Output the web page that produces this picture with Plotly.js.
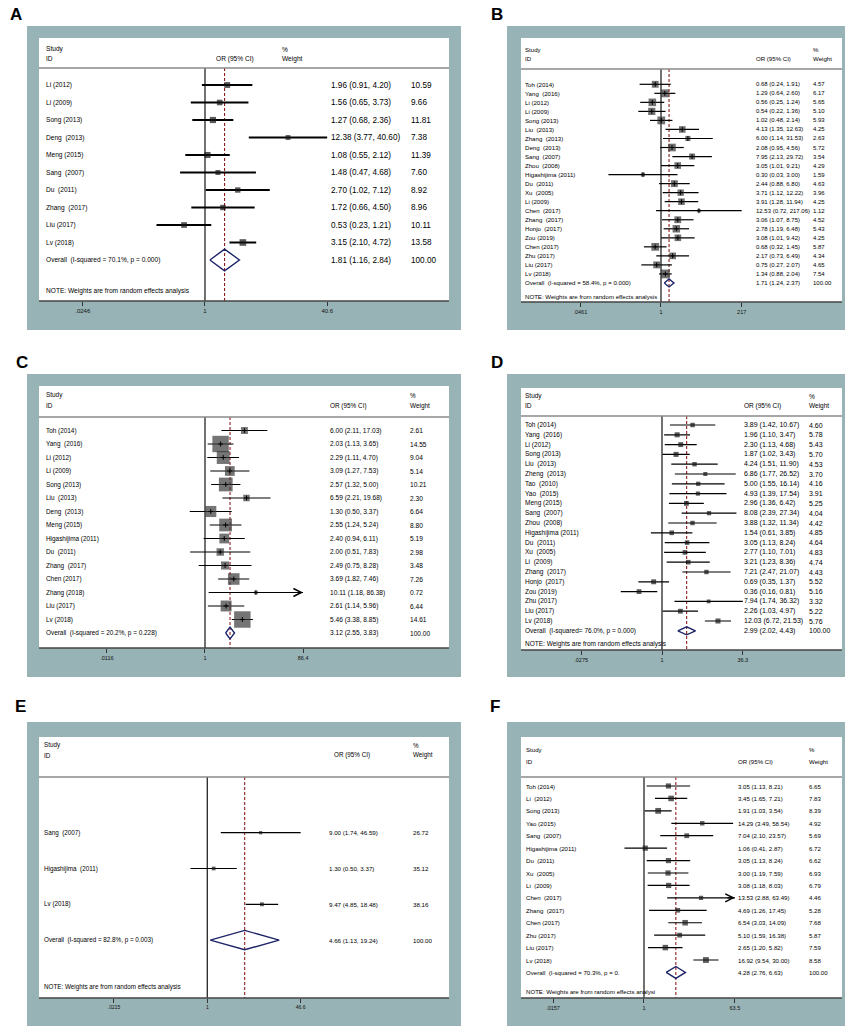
<!DOCTYPE html>
<html><head><meta charset="utf-8">
<script src="https://cdn.plot.ly/plotly-3.0.1.min.js"></script>
<style>html,body{margin:0;padding:0;background:#fff}#chart{width:845px;height:1026px}</style>
</head><body><div id="chart"></div>
<script>
// ================= DATA =================
// Panel A
const A_study = ['Li (2012)','Li (2009)','Song (2013)','Deng  (2013)','Meng (2015)','Sang  (2007)','Du  (2011)','Zhang  (2017)','Liu (2017)','Lv (2018)'];
const A_or = [1.96,1.56,1.27,12.38,1.08,1.48,2.70,1.72,0.53,3.15];
const A_lo = [0.91,0.65,0.68,3.77,0.55,0.47,1.02,0.66,0.23,2.10];
const A_hi = [4.20,3.73,2.36,40.60,2.12,4.68,7.12,4.50,1.21,4.72];
const A_wt = [10.59,9.66,11.81,7.38,11.39,7.60,8.92,8.96,10.11,13.58];
const A_overall = [1.81,1.16,2.84];
const A_overallLabel = 'Overall  (I-squared = 70.1%, p = 0.000)';
const A_tickVals = [0.0246,1,40.6];
const A_tickText = ['.0246','1','40.6'];
const A_note = 'NOTE: Weights are from random effects analysis';

// Panel B
const B_study = ['Toh (2014)','Yang  (2016)','Li (2012)','Li (2009)','Song (2013)','Liu  (2013)','Zhang  (2013)','Deng  (2013)','Sang  (2007)','Zhou  (2008)','Higashijima (2011)','Du  (2011)','Xu  (2005)','Li (2009)','Chen  (2017)','Zhang  (2017)','Honjo  (2017)','Zou (2019)','Chen (2017)','Zhu (2017)','Liu (2017)','Lv (2018)'];
const B_or = [0.68,1.29,0.56,0.54,1.02,4.13,6.00,2.08,7.95,3.05,0.30,2.44,3.71,3.91,12.53,3.06,2.78,3.08,0.68,2.17,0.75,1.34];
const B_lo = [0.24,0.64,0.25,0.22,0.48,1.35,1.14,0.95,2.13,1.01,0.03,0.88,1.12,1.28,0.72,1.07,1.19,1.01,0.32,0.73,0.27,0.88];
const B_hi = [1.91,2.60,1.24,1.36,2.14,12.63,31.53,4.56,29.72,9.21,3.00,6.80,12.22,11.94,217.06,8.75,6.48,9.42,1.45,6.49,2.07,2.04];
const B_wt = [4.57,6.17,5.65,5.10,5.93,4.25,2.63,5.72,3.54,4.29,1.59,4.63,3.96,4.25,1.12,4.52,5.43,4.25,5.87,4.34,4.65,7.54];
const B_overall = [1.71,1.24,2.37];
const B_overallLabel = 'Overall  (I-squared = 58.4%, p = 0.000)';
const B_tickVals = [0.00461,1,217];
const B_tickText = ['.0461','1','217'];
const B_note = 'NOTE: Weights are from random effects analysis';

// Panel C
const C_study = ['Toh (2014)','Yang  (2016)','Li (2012)','Li (2009)','Song (2013)','Liu  (2013)','Deng  (2013)','Meng (2015)','Higashijima (2011)','Du  (2011)','Zhang  (2017)','Chen (2017)','Zhang (2018)','Liu (2017)','Lv (2018)'];
const C_or = [6.00,2.03,2.29,3.09,2.57,6.59,1.30,2.55,2.40,2.00,2.49,3.69,10.11,2.61,5.46];
const C_lo = [2.11,1.13,1.11,1.27,1.32,2.21,0.50,1.24,0.94,0.51,0.75,1.82,1.18,1.14,3.38];
const C_hi = [17.03,3.65,4.70,7.53,5.00,19.68,3.37,5.24,6.11,7.83,8.28,7.46,86.38,5.96,8.85];
const C_wt = [2.61,14.55,9.04,5.14,10.21,2.30,6.64,8.80,5.19,2.98,3.48,7.26,0.72,6.44,14.61];
const C_overall = [3.12,2.55,3.83];
const C_overallLabel = 'Overall  (I-squared = 20.2%, p = 0.228)';
const C_tickVals = [0.0116,1,86.4];
const C_tickText = ['.0116','1','86.4'];
const C_note = '';

// Panel D
const D_study = ['Toh (2014)','Yang  (2016)','Li (2012)','Song (2013)','Liu  (2013)','Zheng  (2013)','Tao  (2010)','Yao  (2015)','Meng (2015)','Sang  (2007)','Zhou  (2008)','Higashijima (2011)','Du  (2011)','Xu  (2005)','Li  (2009)','Zhang  (2017)','Honjo  (2017)','Zou (2019)','Zhu (2017)','Liu (2017)','Lv (2018)'];
const D_or = [3.89,1.96,2.30,1.87,4.24,6.86,5.00,4.93,2.96,8.08,3.88,1.54,3.05,2.77,3.21,7.21,0.69,0.36,7.94,2.26,12.03];
const D_lo = [1.42,1.10,1.13,1.02,1.51,1.77,1.55,1.39,1.36,2.39,1.32,0.61,1.13,1.10,1.23,2.47,0.35,0.16,1.74,1.03,6.72];
const D_hi = [10.67,3.47,4.68,3.43,11.90,26.52,16.14,17.54,6.42,27.34,11.34,3.85,8.24,7.01,8.36,21.07,1.37,0.81,36.32,4.97,21.53];
const D_wt = [4.60,5.78,5.43,5.70,4.53,3.70,4.16,3.91,5.25,4.04,4.42,4.85,4.64,4.83,4.74,4.43,5.52,5.16,3.32,5.22,5.76];
const D_overall = [2.99,2.02,4.43];
const D_overallLabel = 'Overall  (I-squared= 76.0%, p = 0.000)';
const D_tickVals = [0.0275,1,36.3];
const D_tickText = ['.0275','1','36.3'];
const D_note = 'NOTE: Weights are from random effects analysis';

// Panel E
const E_study = ['Sang  (2007)','Higashijima  (2011)','Lv (2018)'];
const E_or = [9.00,1.30,9.47];
const E_lo = [1.74,0.50,4.85];
const E_hi = [46.59,3.37,18.48];
const E_wt = [26.72,35.12,38.16];
const E_overall = [4.66,1.13,19.24];
const E_overallLabel = 'Overall  (I-squared = 82.8%, p = 0.003)';
const E_tickVals = [0.0215,1,46.6];
const E_tickText = ['.0215','1','46.6'];
const E_note = 'NOTE: Weights are from random effects analysis';

// Panel F
const F_study = ['Toh (2014)','Li  (2012)','Song (2013)','Yao (2015)','Sang  (2007)','Higashijima (2011)','Du  (2011)','Xu  (2005)','Li  (2009)','Chen  (2017)','Zhang  (2017)','Chen (2017)','Zhu (2017)','Liu (2017)','Lv (2018)'];
const F_or = [3.05,3.45,1.91,14.29,7.04,1.06,3.05,3.00,3.08,13.53,4.69,6.54,5.10,2.65,16.92];
const F_lo = [1.13,1.65,1.03,3.49,2.10,0.41,1.13,1.19,1.18,2.88,1.26,3.03,1.59,1.20,9.54];
const F_hi = [8.21,7.21,3.54,58.54,23.57,2.87,8.24,7.59,8.03,63.49,17.45,14.09,16.38,5.82,30.00];
const F_wt = [6.65,7.83,8.39,4.92,5.69,6.72,6.62,6.93,6.79,4.46,5.28,7.68,5.87,7.59,8.58];
const F_overall = [4.28,2.76,6.63];
const F_overallLabel = 'Overall  (I-squared = 70.3%, p = 0.';
const F_tickVals = [0.0157,1,63.5];
const F_tickText = ['.0157','1','63.5'];
const F_note = 'NOTE: Weights are from random effects analysi';

// ================= LAYOUT / STYLE =================
const W = 845, H = 1026;
const FONT = 'Arial, "Liberation Sans", Helvetica, sans-serif';
const TEAL = '#98b3b5';

const panels = [
 {name:'A', study:A_study, or:A_or, lo:A_lo, hi:A_hi, wt:A_wt, ov:A_overall, ovLab:A_overallLabel, tv:A_tickVals, tt:A_tickText, note:A_note,
  g:{frame:[27,26,461,330], white:[39,38,449,301], head:68, studyY:49, idY:59, row0:85, dy:17.5, noteY:290.7,
     one:205, ppl:33, xStudy:45, xOr:330, xWt:410, xOrHead:215, xWtHead:281, fsL:6.6, fsN:8.2, tfs:6,
     box:1.8, boxColor:'#141414', dot:false, ci:1.8, dia:0.62, lab:[16,15], arrows:[]}},
 {name:'B', study:B_study, or:B_or, lo:B_lo, hi:B_hi, wt:B_wt, ov:B_overall, ovLab:B_overallLabel, tv:B_tickVals, tt:B_tickText, note:B_note,
  g:{frame:[507,26,846,330], white:[521,38,842,302], head:69, studyY:49, idY:59, row0:84.3, dy:9.03, noteY:296.5,
     one:661, ppl:15, xStudy:524, xOr:755, xWt:812, xOrHead:755, xWtHead:812, fsL:6.1, fsN:6, tfs:5.5,
     box:3.2, boxColor:'#363636', dot:true, ci:1.2, dia:0.44, lab:[497,15], arrows:[]}},
 {name:'C', study:C_study, or:C_or, lo:C_lo, hi:C_hi, wt:C_wt, ov:C_overall, ovLab:C_overallLabel, tv:C_tickVals, tt:C_tickText, note:C_note,
  g:{frame:[27,374,461,677], white:[39,386,449,648], head:417, studyY:395, idY:406, row0:430.5, dy:13.5, noteY:0,
     one:205, ppl:22, xStudy:45, xOr:329, xWt:409, xOrHead:329, xWtHead:409, fsL:6.4, fsN:6.6, tfs:5.5,
     box:4.3, boxColor:'#3a3a3a', dot:true, ci:1.2, dia:0.44, lab:[22,362], arrows:[12]}},
 {name:'D', study:D_study, or:D_or, lo:D_lo, hi:D_hi, wt:D_wt, ov:D_overall, ovLab:D_overallLabel, tv:D_tickVals, tt:D_tickText, note:D_note,
  g:{frame:[507,374,846,677], white:[521,388,842,650], head:416, studyY:396, idY:406, row0:425, dy:9.8, noteY:644,
     one:662, ppl:22.5, xStudy:524, xOr:743, xWt:808, xOrHead:743, xWtHead:808, fsL:6.5, fsN:7, tfs:5.5,
     box:2.1, boxColor:'#141414', dot:false, ci:1.2, dia:0.41, lab:[497,362], arrows:[]}},
 {name:'E', study:E_study, or:E_or, lo:E_lo, hi:E_hi, wt:E_wt, ov:E_overall, ovLab:E_overallLabel, tv:E_tickVals, tt:E_tickText, note:E_note,
  g:{frame:[27,722,461,1027], white:[39,737,449,998], head:777, studyY:745, idY:755, row0:832.7, dy:35.8, noteY:986.7,
     one:207.3, ppl:24.3, xStudy:43, xOr:328, xWt:412, xOrHead:333, xWtHead:412, fsL:6.3, fsN:6.2, tfs:5,
     box:0.62, boxColor:'#141414', dot:false, ci:1.2, dia:0.27, lab:[20,706], arrows:[]}},
 {name:'F', study:F_study, or:F_or, lo:F_lo, hi:F_hi, wt:F_wt, ov:F_overall, ovLab:F_overallLabel, tv:F_tickVals, tt:F_tickText, note:F_note,
  g:{frame:[507,722,846,1027], white:[521,737,842,998], head:777, studyY:749, idY:761, row0:786, dy:12.43, noteY:991.7,
     one:644, ppl:21.9, xStudy:525, xOr:737, xWt:808, xOrHead:737, xWtHead:808, fsL:6.1, fsN:6.1, tfs:5.5,
     box:2.0, boxColor:'#1a1a1a', dot:false, ci:1.2, dia:0.48, lab:[495,706], arrows:[9]}}
];

const data = [], annotations = [], shapes = [];
const layout = {width:W, height:H, margin:{l:0,r:0,t:0,b:0}, paper_bgcolor:'#fff', plot_bgcolor:'rgba(0,0,0,0)',
  showlegend:false, font:{family:FONT, color:'#000'}};

const px = x => x / W, py = y => 1 - y / H;
const f2 = v => v.toFixed(2);
const ciText = (o,l,h) => f2(o) + ' (' + f2(l) + ', ' + f2(h) + ')';
const PAD = 1.004; // tiny margin so the outer ticks are kept

panels.forEach((p, k) => {
  const n = k + 1;
  const xa = n === 1 ? 'x' : 'x' + n, ya = n === 1 ? 'y' : 'y' + n;
  const g = p.g;
  const xmax = p.tv[p.tv.length - 1];
  const half = g.ppl * Math.log(xmax) * PAD;
  const iBot = (g.white[3] - g.row0) / g.dy, iTop = (g.head - g.row0) / g.dy;
  layout[n === 1 ? 'xaxis' : 'xaxis' + n] = {type:'log', domain:[px(g.one - half), px(g.one + half)],
    range:[-Math.log10(xmax) * PAD, Math.log10(xmax) * PAD], anchor:ya, tickmode:'array', tickvals:p.tv, ticktext:p.tt,
    ticks:'outside', ticklen:4, tickwidth:1, tickcolor:'#333', showgrid:false, zeroline:false, showline:false,
    tickfont:{family:FONT, size:g.tfs, color:'#111'}, fixedrange:true};
  layout[n === 1 ? 'yaxis' : 'yaxis' + n] = {domain:[py(g.white[3]), py(g.head)], range:[iBot, iTop], anchor:xa,
    visible:false, fixedrange:true};

  // frame + white box + lines
  shapes.push({type:'rect', xref:'paper', yref:'paper', x0:px(g.frame[0]), x1:px(g.frame[2]), y0:py(g.frame[3]), y1:py(g.frame[1]),
    fillcolor:TEAL, line:{width:0}, layer:'below'});
  shapes.push({type:'rect', xref:'paper', yref:'paper', x0:px(g.white[0]), x1:px(g.white[2]), y0:py(g.white[3]), y1:py(g.white[1]),
    fillcolor:'#fff', line:{width:0}, layer:'below'});
  shapes.push({type:'line', xref:'paper', yref:'paper', x0:px(g.white[0]), x1:px(g.white[2]), y0:py(g.head), y1:py(g.head),
    line:{color:'#8a8a8a', width:1.3}});
  shapes.push({type:'line', xref:'paper', yref:'paper', x0:px(g.white[0]), x1:px(g.white[2]), y0:py(g.white[3]), y1:py(g.white[3]),
    line:{color:'#454545', width:1.4}});

  const idx = p.study.map((_, i) => i);
  const m = p.study.length;
  // null line at OR = 1
  data.push({type:'scatter', mode:'lines', x:[1,1], y:[iTop,iBot], xaxis:xa, yaxis:ya,
    line:{color:'#262626', width:1.3}, hoverinfo:'skip'});
  // overall dashed line
  data.push({type:'scatter', mode:'lines', x:[p.ov[0],p.ov[0]], y:[iTop,iBot], xaxis:xa, yaxis:ya,
    line:{color:'#8f1d1d', width:1.1, dash:'3px,2px'}, hoverinfo:'skip'});
  // study boxes with CIs
  data.push({type:'scatter', mode:'markers', x:p.or, y:idx, xaxis:xa, yaxis:ya, cliponaxis:false,
    marker:{symbol:'square', size:p.wt.map(w => g.box * Math.sqrt(w)), color:g.boxColor, line:{width:0}},
    error_x:{type:'data', symmetric:false, array:p.hi.map((h,i) => h - p.or[i]), arrayminus:p.lo.map((l,i) => p.or[i] - l),
      color:'#000', thickness:g.ci, width:0}, hoverinfo:'skip'});
  if (g.dot) {
    data.push({type:'scatter', mode:'markers', x:p.or, y:idx, xaxis:xa, yaxis:ya, cliponaxis:false,
      marker:{symbol:'cross-thin', size:3.5, color:'#000', line:{width:1, color:'#000'}}, hoverinfo:'skip'});
  }
  // overall diamond
  const d = g.dia;
  data.push({type:'scatter', mode:'lines', x:[p.ov[1],p.ov[0],p.ov[2],p.ov[0],p.ov[1]], y:[m,m-d,m,m+d,m],
    xaxis:xa, yaxis:ya, line:{color:'#1d2467', width:1.4}, hoverinfo:'skip'});
  // arrows for truncated CIs
  g.arrows.forEach(i => {
    annotations.push({xref:xa, yref:ya, x:Math.log10(p.hi[i]), y:i, ax:-9, ay:0, text:'', showarrow:true,
      arrowhead:5, arrowsize:1.3, arrowwidth:1.2, arrowcolor:'#000'});
  });

  const txt = (x, y, t, yref, size) => ({xref:'paper', yref:yref, x:px(x), y:y, text:t, showarrow:false,
    xanchor:'left', yanchor:'middle', font:{family:FONT, size:size, color:'#000'}, borderpad:0});
  // headers
  annotations.push(txt(g.xStudy, py(g.studyY), 'Study', 'paper', g.fsL));
  annotations.push(txt(g.xStudy, py(g.idY), 'ID', 'paper', g.fsL));
  annotations.push(txt(g.xOrHead, py(g.idY), 'OR (95% CI)', 'paper', g.fsL));
  annotations.push(txt(g.xWtHead, py(g.studyY), '%', 'paper', g.fsL));
  annotations.push(txt(g.xWtHead, py(g.idY), 'Weight', 'paper', g.fsL));
  // rows
  p.study.forEach((s, i) => {
    annotations.push(txt(g.xStudy, i, s, ya, g.fsL));
    annotations.push(txt(g.xOr, i, ciText(p.or[i], p.lo[i], p.hi[i]), ya, g.fsN));
    annotations.push(txt(g.xWt, i, f2(p.wt[i]), ya, g.fsN));
  });
  annotations.push(txt(g.xStudy, m, p.ovLab, ya, g.fsL));
  annotations.push(txt(g.xOr, m, ciText(p.ov[0], p.ov[1], p.ov[2]), ya, g.fsN));
  annotations.push(txt(g.xWt, m, f2(100), ya, g.fsN));
  if (p.note) annotations.push(txt(g.xStudy, py(g.noteY), p.note, 'paper', g.fsL));
  // panel letter
  annotations.push({xref:'paper', yref:'paper', x:px(g.lab[0]), y:py(g.lab[1]), text:'<b>' + p.name + '</b>', showarrow:false,
    xanchor:'center', yanchor:'middle', font:{family:FONT, size:17, color:'#000'}});
});

layout.shapes = shapes;
layout.annotations = annotations;
Plotly.newPlot('chart', data, layout, {displayModeBar:false, staticPlot:true});
</script>
</body></html>
